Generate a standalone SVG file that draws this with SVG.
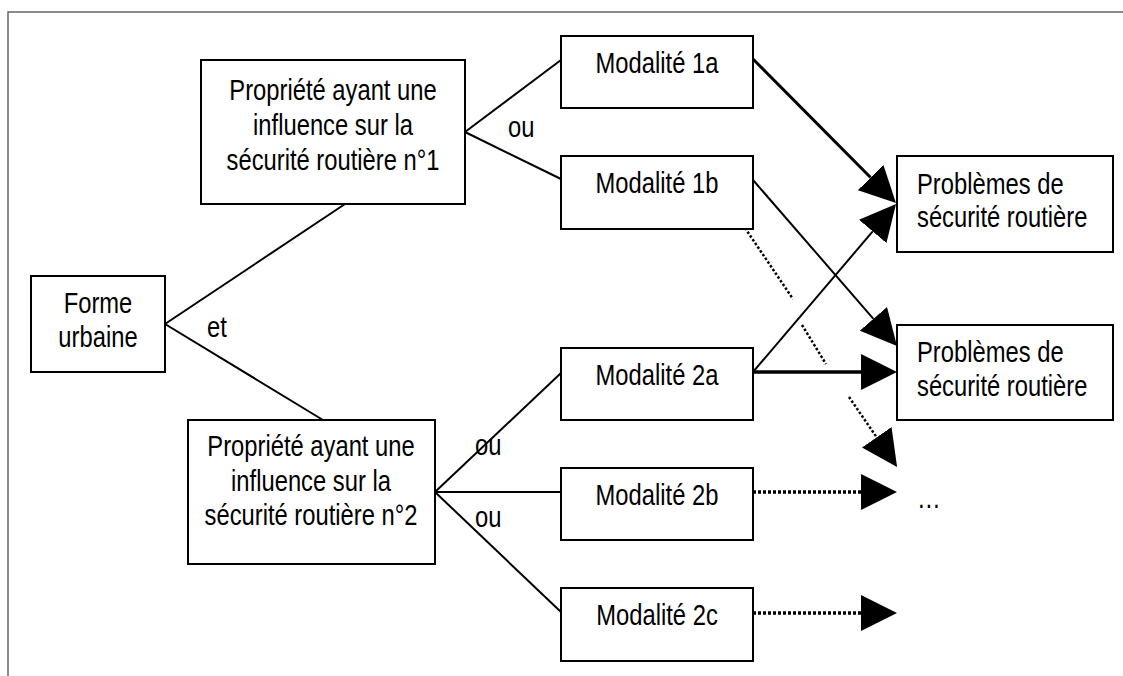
<svg xmlns="http://www.w3.org/2000/svg" width="1123" height="676" viewBox="0 0 1123 676">
<style>
.box{fill:#fff;stroke:#000;stroke-width:2}
.t{font-family:"Liberation Sans",Arial,sans-serif;font-size:29px;fill:#000}
.c{text-anchor:middle}
.ln{stroke:#000;stroke-width:2;fill:none}
.thick{stroke-width:3.5}
.dot{stroke-dasharray:3 2;stroke-width:3.5}
.dotd{stroke-dasharray:2.5 2;stroke-width:2.5}
</style>
<defs>
<marker id="ah" markerUnits="userSpaceOnUse" viewBox="0 0 36 36" refX="0" refY="18" markerWidth="36" markerHeight="36" orient="auto">
<path d="M0,0 L36,18 L0,36 z" fill="#000"/>
</marker>
</defs>
<rect width="1123" height="676" fill="#fff"/>
<path d="M8,676 V12 H1123" fill="none" stroke="#666" stroke-width="1.5"/>
<g id="connectors">
<line class="ln" x1="165" y1="324" x2="345" y2="204"/>
<line class="ln" x1="165" y1="324" x2="323" y2="420"/>
<line class="ln" x1="465" y1="132" x2="561" y2="60"/>
<line class="ln" x1="465" y1="132" x2="561" y2="179"/>
<line class="ln" x1="435" y1="492" x2="561" y2="373"/>
<line class="ln" x1="435" y1="492" x2="561" y2="492"/>
<line class="ln" x1="435" y1="492" x2="561" y2="612"/>
<line class="ln" style="stroke-width:3" x1="753" y1="59" x2="870.6" y2="177.5" marker-end="url(#ah)"/>
<line class="ln" x1="753" y1="180" x2="873.4" y2="318.8" marker-end="url(#ah)"/>
<line class="ln" x1="753" y1="372" x2="872.7" y2="231.4" marker-end="url(#ah)"/>
<line class="ln thick" x1="753" y1="372" x2="861" y2="372" marker-end="url(#ah)"/>
<line class="ln dot" x1="753" y1="492" x2="861" y2="492" marker-end="url(#ah)"/>
<line class="ln dot" x1="753" y1="613" x2="861" y2="613" marker-end="url(#ah)"/>
<line class="ln dotd" x1="745" y1="228" x2="793" y2="299"/>
<line class="ln dotd" x1="802" y1="325" x2="826" y2="364"/>
<line class="ln dotd" x1="849" y1="397" x2="876.7" y2="437.3" marker-end="url(#ah)"/>
</g>
<g id="forme">
<rect class="box" x="31" y="276" width="134" height="96"/>
<text class="t c" transform="translate(98,313) scale(0.82,1)">Forme</text>
<text class="t c" transform="translate(98,347) scale(0.82,1)">urbaine</text>
</g>
<g id="p1">
<rect class="box" x="201" y="60" width="264" height="144"/>
<text class="t c" transform="translate(333,100) scale(0.82,1)">Propriété ayant une</text>
<text class="t c" transform="translate(333,135) scale(0.82,1)">influence sur la</text>
<text class="t c" transform="translate(333,170) scale(0.82,1)">sécurité routière n°1</text>
</g>
<g id="p2">
<rect class="box" x="188" y="420" width="247" height="144"/>
<text class="t c" transform="translate(311,456) scale(0.82,1)">Propriété ayant une</text>
<text class="t c" transform="translate(311,491) scale(0.82,1)">influence sur la</text>
<text class="t c" transform="translate(311,525) scale(0.82,1)">sécurité routière n°2</text>
</g>
<g id="m1a"><rect class="box" x="561" y="36" width="192" height="72"/><text class="t c" transform="translate(657,73) scale(0.82,1)">Modalité 1a</text></g>
<g id="m1b"><rect class="box" x="561" y="156" width="192" height="73"/><text class="t c" transform="translate(657,193) scale(0.82,1)">Modalité 1b</text></g>
<g id="m2a"><rect class="box" x="561" y="348" width="192" height="72"/><text class="t c" transform="translate(657,385) scale(0.82,1)">Modalité 2a</text></g>
<g id="m2b"><rect class="box" x="561" y="468" width="192" height="72"/><text class="t c" transform="translate(657,505) scale(0.82,1)">Modalité 2b</text></g>
<g id="m2c"><rect class="box" x="561" y="588" width="192" height="73"/><text class="t c" transform="translate(657,625) scale(0.82,1)">Modalité 2c</text></g>
<g id="prob1">
<rect class="box" x="897" y="156" width="216" height="96"/>
<text class="t" transform="translate(917,194) scale(0.82,1)">Problèmes de</text>
<text class="t" transform="translate(917,227) scale(0.82,1)">sécurité routière</text>
</g>
<g id="prob2">
<rect class="box" x="897" y="325" width="216" height="95"/>
<text class="t" transform="translate(917,362) scale(0.82,1)">Problèmes de</text>
<text class="t" transform="translate(917,396) scale(0.82,1)">sécurité routière</text>
</g>
<g id="labels">
<text class="t" transform="translate(207,337) scale(0.82,1)">et</text>
<text class="t" transform="translate(508,137) scale(0.82,1)">ou</text>
<text class="t" transform="translate(475,455) scale(0.82,1)">ou</text>
<text class="t" transform="translate(475,527) scale(0.82,1)">ou</text>
<text class="t" transform="translate(917,508) scale(0.82,1)">…</text>
</g>
</svg>
